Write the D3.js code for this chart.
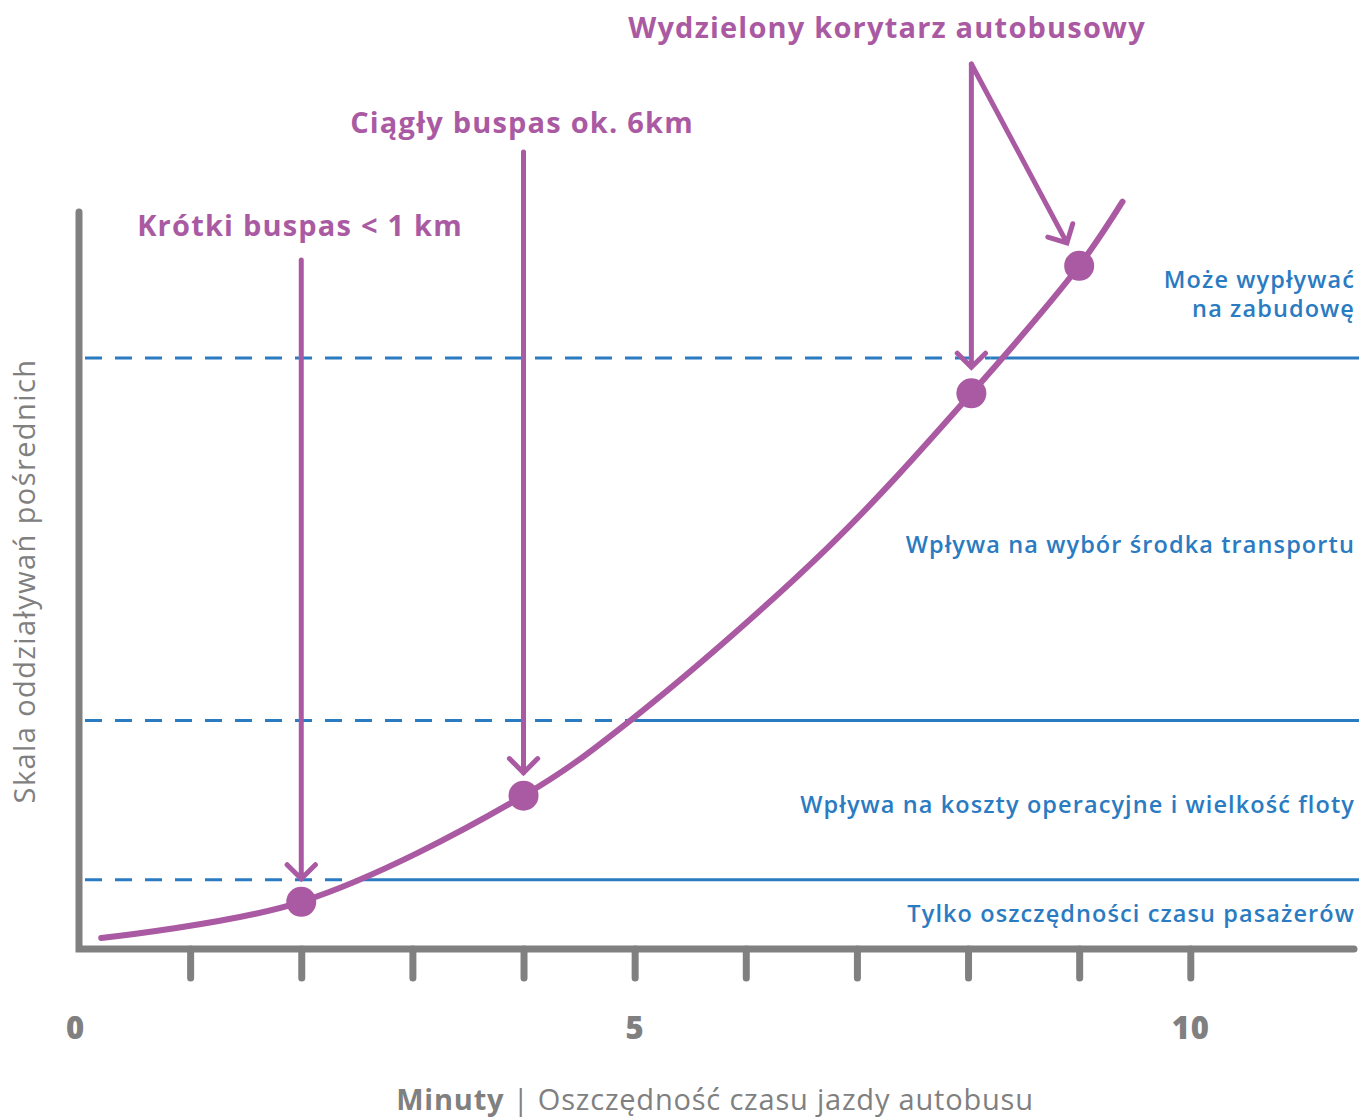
<!DOCTYPE html>
<html>

<head>
  <meta charset="UTF-8">
  <script src="https://d3js.org/d3.v7.js"></script>
  <style>
    body { margin: 0; background: #fff; }
    text { font-family: "Open Sans", "Noto Sans", sans-serif; }
  </style>
</head>

<body>
  <div id="chart"></div>

  <script>
    // data (minutes saved vs. indirect impact, arbitrary 0-100 scale)

    const curveMinutes = [0.2, 2.0, 4.0, 4.96, 6.74, 8.03, 9.0, 9.39];
    const curveImpact  = [1.5, 6.4, 20.8, 31.0, 54.5, 75.4, 92.7, 101.4];

    const dotMinutes = [2.0, 4.0, 8.03, 9.0];
    const dotImpact  = [6.4, 20.8, 75.4, 92.7];

    const levelImpact  = [9.4, 31.0, 80.2];
    const levelCrossAt = [2.55, 5.0, 8.2];

    const zoneLabels = [
      ["Tylko oszczędności czasu pasażerów"],
      ["Wpływa na koszty operacyjne i wielkość floty"],
      ["Wpływa na wybór środka transportu"],
      ["Może wypływać", "na zabudowę"]
    ];

    const annoLabels  = ["Krótki buspas < 1 km", "Ciągły buspas ok. 6km", "Wydzielony korytarz autobusowy"];
    const annoTargets = [[0], [1], [2, 3]];   // which dots each annotation points at

    const tickMinutes  = [1, 2, 3, 4, 5, 6, 7, 8, 9, 10];
    const labelMinutes = [0, 5, 10];

    const xTitleBold = "Minuty";
    const xTitleRest = " | Oszczędność czasu jazdy autobusu";
    const yTitle = "Skala oddziaływań pośrednich";

    // set up

    const W = 1359, H = 1119;
    const purple = "#aa5aa2";
    const blue = "#2a7bc1";
    const grey = "#808080";

    const svg = d3.select('#chart')
      .append('svg')
        .attr('width', W)
        .attr('height', H);

    // scales

    const x = d3.scaleLinear()
        .domain([0, 11.5])
        .range([79, 1357]);

    const y = d3.scaleLinear()
        .domain([0, 100])
        .range([949, 212]);

    // threshold lines: dashed left of the curve, solid right of it

    levelImpact.forEach((v, i) => {
      svg.append('line')
          .attr('x1', x(0) + 6).attr('x2', x(levelCrossAt[i]))
          .attr('y1', y(v)).attr('y2', y(v))
          .attr('stroke', blue)
          .attr('stroke-width', 3)
          .attr('stroke-dasharray', '17,13');
      svg.append('line')
          .attr('x1', x(levelCrossAt[i])).attr('x2', W)
          .attr('y1', y(v)).attr('y2', y(v))
          .attr('stroke', blue)
          .attr('stroke-width', 3);
    });

    // axes

    svg.append('g')
        .attr('transform', `translate(0,${y(0)})`)
        .call(d3.axisBottom(x).tickValues(tickMinutes).tickSize(29).tickFormat(''))
        .call(g => g.select('.domain').remove())
        .call(g => g.selectAll('.tick line')
            .attr('stroke', grey)
            .attr('stroke-width', 7)
            .attr('stroke-linecap', 'round'));

    svg.append('g')
        .attr('transform', `translate(0,${y(0)})`)
        .call(d3.axisBottom(x).tickValues(labelMinutes).tickSize(0).tickPadding(68))
        .call(g => g.select('.domain').remove())
        .call(g => g.selectAll('.tick text')
            .attr('fill', grey)
            .attr('font-family', '"Open Sans", sans-serif')
            .attr('font-weight', 800)
            .attr('font-size', 31)
            .attr('letter-spacing', 1))
        .call(g => g.selectAll('.tick').filter(d => d === 0).select('text').attr('dx', -4));

    svg.append('path')
        .attr('d', `M${x(0)},${y.range()[1]} L${x(0)},${y(0)} L${x.range()[1] - 3},${y(0)}`)
        .attr('fill', 'none')
        .attr('stroke', grey)
        .attr('stroke-width', 7)
        .attr('stroke-linecap', 'round')
        .attr('stroke-linejoin', 'miter');

    // axis titles

    const xt = svg.append('text')
        .attr('x', 715)
        .attr('y', 1110)
        .attr('text-anchor', 'middle')
        .attr('fill', grey)
        .attr('font-size', 29)
        .attr('letter-spacing', 0.8);
    xt.append('tspan').attr('font-weight', 700).text(xTitleBold);
    xt.append('tspan').attr('font-weight', 400).text(xTitleRest);

    svg.append('text')
        .attr('transform', `translate(35,581) rotate(-90)`)
        .attr('text-anchor', 'middle')
        .attr('fill', grey)
        .attr('font-size', 29)
        .attr('letter-spacing', 1.4)
        .text(yTitle);

    // zone labels

    const zoneBaselines = [[922], [813], [553], [288, 317]];
    zoneLabels.forEach((lines, i) => {
      lines.forEach((t, j) => {
        svg.append('text')
            .attr('x', 1355)
            .attr('y', zoneBaselines[i][j])
            .attr('text-anchor', 'end')
            .attr('fill', blue)
            .attr('font-weight', 600)
            .attr('font-size', 23.5)
            .attr('letter-spacing', 1.1)
            .text(t);
      });
    });

    // the curve

    const pts = curveMinutes.map((m, i) => [x(m), y(curveImpact[i])]);

    svg.append('path')
        .attr('d', d3.line().curve(d3.curveCatmullRom.alpha(0.5))(pts))
        .attr('fill', 'none')
        .attr('stroke', purple)
        .attr('stroke-width', 6)
        .attr('stroke-linecap', 'round');

    svg.selectAll('circle.dot')
      .data(dotMinutes)
      .join('circle')
        .attr('class', 'dot')
        .attr('cx', d => x(d))
        .attr('cy', (d, i) => y(dotImpact[i]))
        .attr('r', 15)
        .attr('fill', purple);

    // annotations with arrows

    const annoCenter = [300, 522, 887];
    const annoBaseline = [236, 133, 38];
    const arrowTopY = [260, 152, 64];

    annoLabels.forEach((t, i) => {
      svg.append('text')
          .attr('x', annoCenter[i])
          .attr('y', annoBaseline[i])
          .attr('text-anchor', 'middle')
          .attr('fill', purple)
          .attr('font-weight', 700)
          .attr('font-size', 29)
          .attr('letter-spacing', 1.2)
          .text(t);

      // arrows start above the first target dot
      const sx = x(dotMinutes[annoTargets[i][0]]);
      const sy = arrowTopY[i];

      annoTargets[i].forEach(k => {
        const tx = x(dotMinutes[k]), ty = y(dotImpact[k]);
        const dx = tx - sx, dy = ty - sy;
        const len = Math.hypot(dx, dy);
        const ux = dx / len, uy = dy / len;
        const gap = i === 2 ? 26 : 23;
        const ex = tx - ux * gap, ey = ty - uy * gap;
        const a = 20, ang = Math.PI / 4;
        const cos = Math.cos(ang), sin = Math.sin(ang);
        // two arms of the chevron
        const l1 = [ex - a * (ux * cos - uy * sin), ey - a * (uy * cos + ux * sin)];
        const l2 = [ex - a * (ux * cos + uy * sin), ey - a * (uy * cos - ux * sin)];

        svg.append('path')
            .attr('d', `M${sx},${sy} L${ex},${ey} M${l1[0]},${l1[1]} L${ex},${ey} L${l2[0]},${l2[1]}`)
            .attr('fill', 'none')
            .attr('stroke', purple)
            .attr('stroke-width', 5)
            .attr('stroke-linecap', 'round')
            .attr('stroke-linejoin', 'miter');
      });
    });
  </script>
</body>

</html>
